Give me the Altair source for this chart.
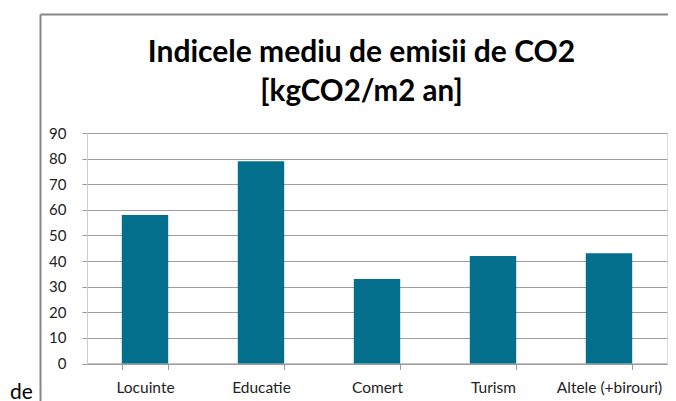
import altair as alt
import pandas as pd

categories = ["Locuinte", "Educatie", "Comert", "Turism", "Altele (+birouri)"]
values = [58, 79, 33, 42, 43]
title_line1 = "Indicele mediu de emisii de CO2"
title_line2 = "[kgCO2/m2 an]"
stray_text = "de"
y_ticks = [0, 10, 20, 30, 40, 50, 60, 70, 80, 90]

df = pd.DataFrame({"cat": categories, "val": values})
one = pd.DataFrame({"a": [0]})

FONT = "Lato"
W, H = 580, 230.5

bars = alt.Chart(df).mark_bar(color="#046f8d").encode(
    x=alt.X("cat:N", sort=categories, title=None,
            scale=alt.Scale(paddingInner=0.6, paddingOuter=0.3),
            axis=alt.Axis(labelAngle=0, labelFont=FONT, labelFontSize=15.5,
                          labelColor="#222222", labelPadding=11,
                          tickBand="extent", tickSize=6, tickColor="#9a9a9a",
                          domainColor="#9a9a9a", grid=False)),
    y=alt.Y("val:Q", title=None,
            scale=alt.Scale(domain=[0, 90], nice=False),
            axis=alt.Axis(values=y_ticks, labelFont=FONT, labelFontSize=15,
                          labelColor="#222222", labelPadding=16,
                          tickSize=5, tickColor="#9a9a9a",
                          domainColor="#cfcfcf", gridColor="#9e9e9e")),
)

border_top = alt.Chart(one).mark_rule(color="#878787", strokeWidth=2, clip=False).encode(
    x=alt.value(-46.5), x2=alt.value(700), y=alt.value(-118.5))
border_left = alt.Chart(one).mark_rule(color="#878787", strokeWidth=2, clip=False).encode(
    x=alt.value(-46.5), y=alt.value(-118.5), y2=alt.value(400))

t1 = alt.Chart(one).mark_text(font=FONT, fontSize=30, fontWeight="bold", color="#000000",
                              align="center", baseline="alphabetic", clip=False).encode(
    x=alt.value(274.5), y=alt.value(-71.5), text=alt.value(title_line1))
t2 = alt.Chart(one).mark_text(font=FONT, fontSize=29.5, fontWeight="bold", color="#000000",
                              align="center", baseline="alphabetic", clip=False).encode(
    x=alt.value(274.5), y=alt.value(-32.5), text=alt.value(title_line2))
t3 = alt.Chart(one).mark_text(font=FONT, fontSize=21, color="#000000",
                              align="left", baseline="alphabetic", clip=False).encode(
    x=alt.value(-77), y=alt.value(266), text=alt.value(stray_text))

chart = alt.layer(border_top, border_left, t1, t2, t3, bars).properties(
    width=W, height=H,
    autosize="none",
    padding={"left": 79, "top": 125, "right": 1, "bottom": 37},
).configure_view(stroke=None).configure(background="white")

chart.save("out.html", embed_options={"renderer": "svg", "actions": False})
